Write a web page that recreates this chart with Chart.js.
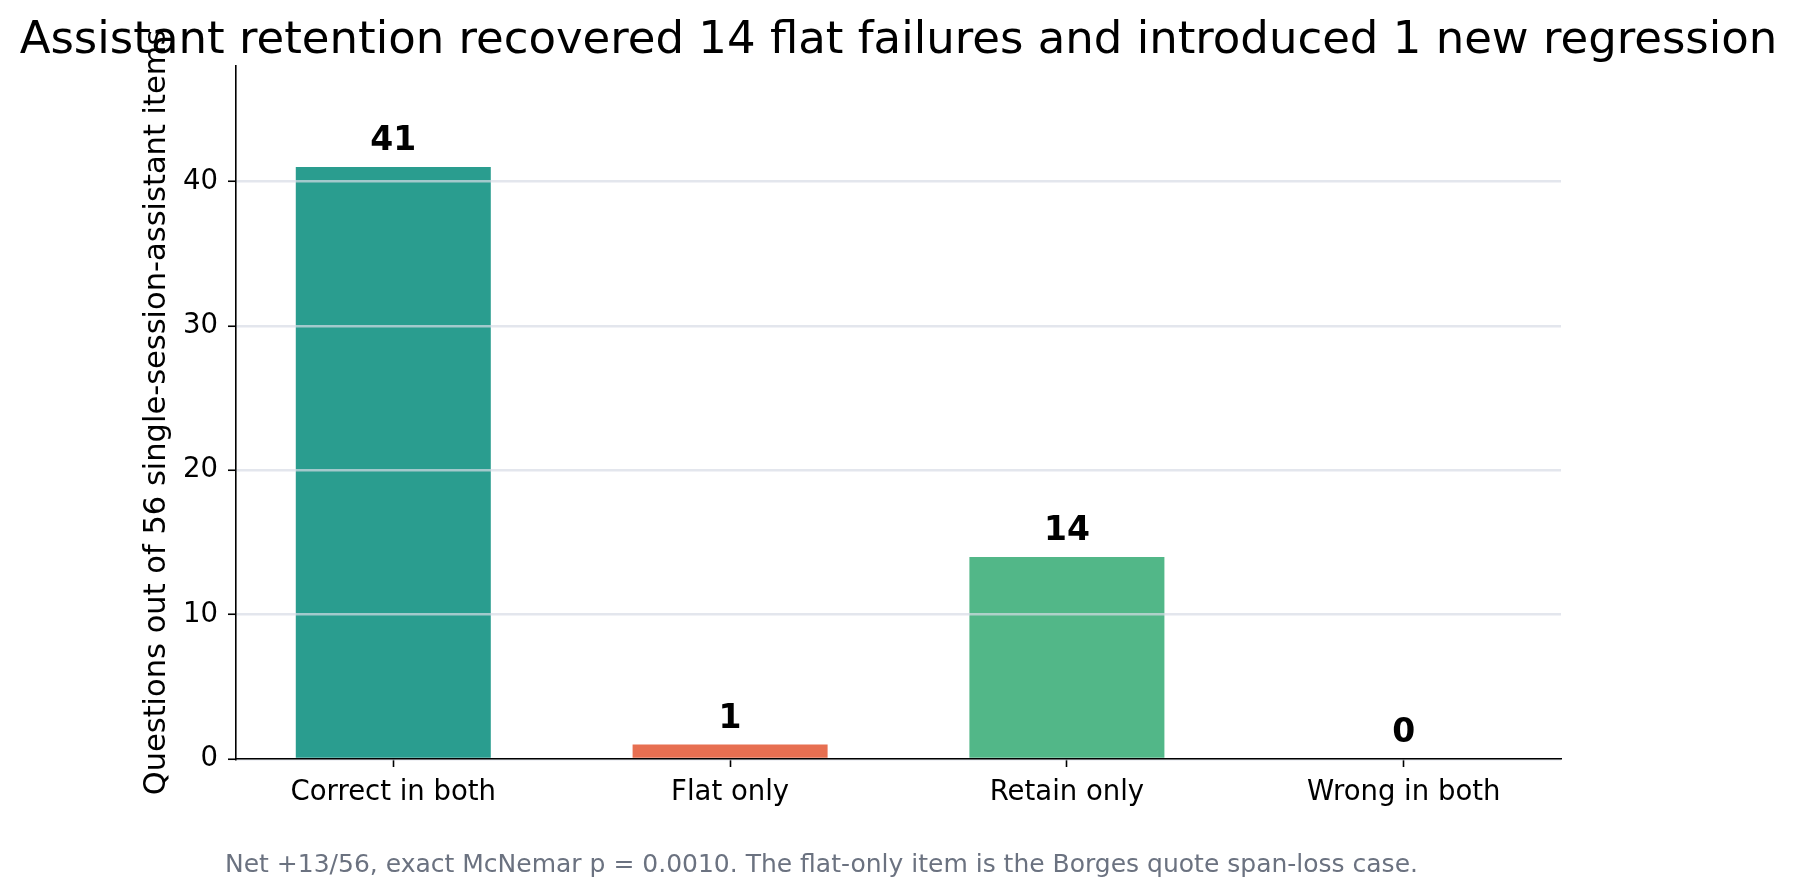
<!DOCTYPE html>
<html>
<head>
<meta charset="utf-8">
<script src="https://cdn.jsdelivr.net/npm/chart.js@4.4.1/dist/chart.umd.min.js"></script>
<style>
  html, body { margin: 0; padding: 0; background: #fff; }
  #wrap { width: 1797px; height: 895px; }
</style>
</head>
<body>
<div id="wrap"><canvas id="outcomeChart" width="1797" height="895"></canvas></div>
<script>
// Dane z wykresu
const categories = ['Correct in both', 'Flat only', 'Retain only', 'Wrong in both'];
const counts = [41, 1, 14, 0];
const barColors = ['#2a9d8f', '#e76f51', '#52b788', '#9aa0a6'];
const yTicks = [0, 10, 20, 30, 40];

const titleText = 'Assistant retention recovered 14 flat failures and introduced 1 new regression';
const yLabel = 'Questions out of 56 single-session-assistant items';
const noteText = 'Net +13/56, exact McNemar p = 0.0010. The flat-only item is the Borges quote span-loss case.';

const FONT = "'DejaVu Sans', sans-serif";

// tytul, etykiety nad slupkami i notka na dole
const labelsPlugin = {
    id: 'barLabels',
    afterDatasetsDraw(chart) {
        const ctx = chart.ctx;
        const meta = chart.getDatasetMeta(0);
        ctx.save();
        ctx.font = 'bold 33px ' + FONT;
        ctx.fillStyle = '#000';
        ctx.textAlign = 'center';
        ctx.textBaseline = 'alphabetic';
        meta.data.forEach(function (bar, i) {
            ctx.fillText(String(counts[i]), bar.x, bar.y - 17);
        });
        ctx.restore();
    },
    afterDraw(chart) {
        const ctx = chart.ctx;
        ctx.save();
        ctx.fillStyle = '#000';
        ctx.font = '45px ' + FONT;
        ctx.textAlign = 'center';
        ctx.textBaseline = 'alphabetic';
        ctx.fillText(titleText, chart.width / 2, 53);

        ctx.font = '25px ' + FONT;
        ctx.fillStyle = '#6b7280';
        ctx.textAlign = 'left';
        ctx.textBaseline = 'middle';
        ctx.fillText(noteText, 225, 865);
        ctx.restore();
    }
};

const ctx = document.getElementById('outcomeChart').getContext('2d');

const myChart = new Chart(ctx, {
    type: 'bar',
    data: {
        datasets: [{
            data: counts.map((v, i) => ({ x: i, y: v })),
            backgroundColor: barColors,
            borderWidth: 0,
            barPercentage: 0.579,
            categoryPercentage: 1.0
        }]
    },
    options: {
        responsive: false,
        animation: false,
        devicePixelRatio: 1,
        layout: { padding: { left: 0, right: 236, top: 66, bottom: 0 } },
        plugins: {
            legend: { display: false },
            tooltip: { enabled: false },
            title: { display: false }
        },
        scales: {
            x: {
                type: 'linear',
                min: -0.467,
                max: 3.467,
                offset: false,
                afterBuildTicks(scale) {
                    scale.ticks = categories.map((c, i) => ({ value: i }));
                },
                grid: {
                    display: true,
                    offset: false,
                    drawOnChartArea: false,
                    tickColor: '#000',
                    tickLength: 8,
                    tickWidth: 1.6
                },
                border: { color: '#000', width: 1.6, z: 2 },
                ticks: {
                    color: '#000',
                    font: { family: FONT, size: 27.5 },
                    padding: 9,
                    maxRotation: 0,
                    callback: (value) => categories[value]
                },
                afterFit(scale) { scale.height = 136; }
            },
            y: {
                min: 0,
                max: 48,
                afterBuildTicks(scale) {
                    scale.ticks = yTicks.map(v => ({ value: v }));
                },
                grid: {
                    z: 1,
                    color: 'rgba(215,219,230,0.7)',
                    lineWidth: 2.5,
                    tickColor: '#000',
                    tickLength: 8,
                    tickWidth: 1.6
                },
                border: { color: '#000', width: 1.6, z: 2 },
                ticks: {
                    color: '#000',
                    font: { family: FONT, size: 27.5 },
                    padding: 10
                },
                title: {
                    display: true,
                    text: yLabel,
                    color: '#000',
                    font: { family: FONT, size: 30.5 },
                    padding: { top: 139, bottom: 0 }
                },
                afterFit(scale) { scale.width = 236; }
            }
        }
    },
    plugins: [labelsPlugin]
});
</script>
</body>
</html>
